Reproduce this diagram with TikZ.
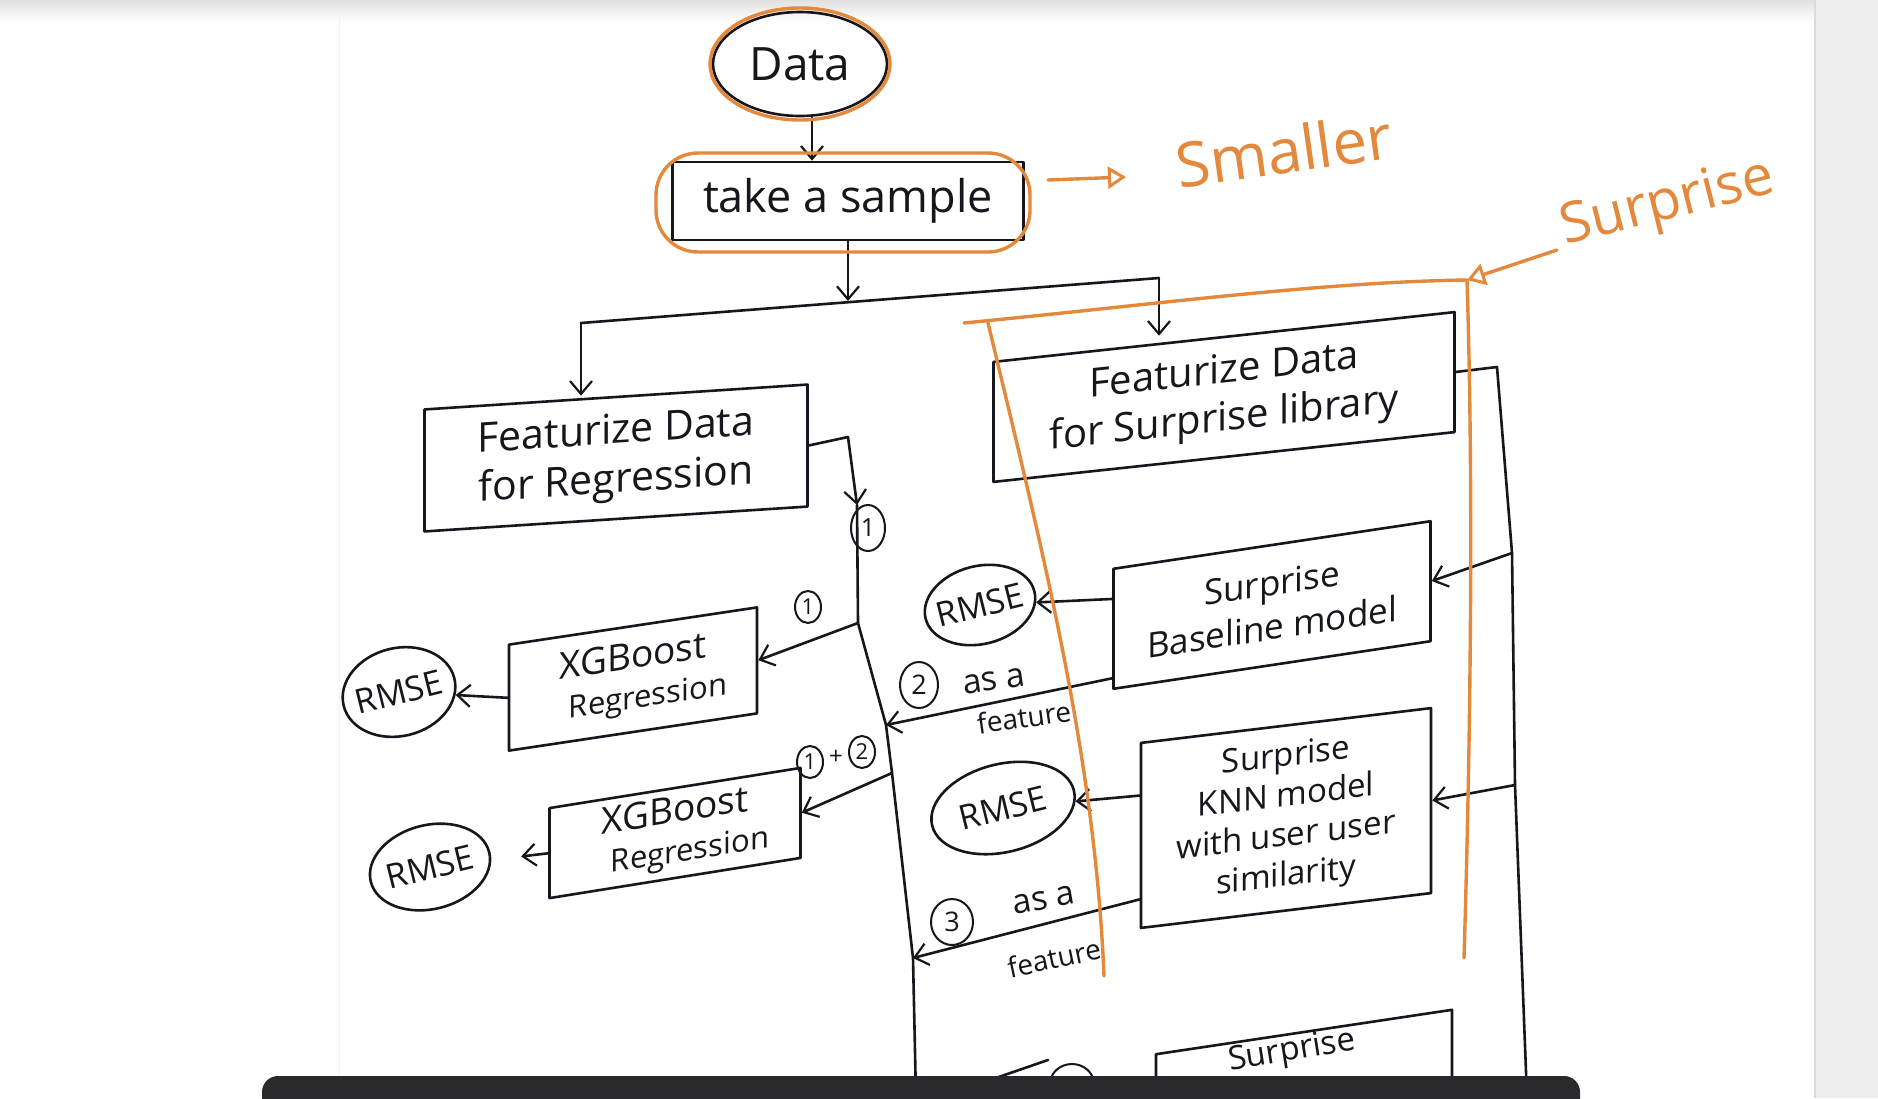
\documentclass[tikz,border=0pt]{standalone}
\usepackage{fontspec}
\setmainfont{Open Sans}
\usetikzlibrary{arrows.meta,shapes.geometric}
\definecolor{ink}{RGB}{22,22,28}
\definecolor{hl}{RGB}{228,136,60}
\definecolor{bar}{RGB}{42,42,44}
\begin{document}
\begin{tikzpicture}[x=1pt,y=-1pt,
  inkline/.style={draw=ink,line width=2.6pt,line join=round,line cap=round},
  box/.style={inkline,rectangle,align=center,inner sep=4pt,text=ink},
  oval/.style={inkline,ellipse,inner xsep=-5pt,inner ysep=0pt,text=ink,font=\fontsize{34}{38}\selectfont},
  num/.style={draw=ink,line width=2pt,ellipse,inner sep=0pt,text=ink,font=\fontsize{22}{24}\selectfont},
  arr/.style={inkline,-{Straight Barb[length=13pt,width=22pt,line width=2.2pt]}},
  lbl/.style={text=ink,inner sep=0pt},
  hlline/.style={draw=hl,line width=3.4pt,line cap=round,line join=round},
  hlarr/.style={hlline,-{Triangle[open,length=18pt,width=22pt,line width=3pt]}},
  hltext/.style={text=hl,inner sep=0pt}
]
\useasboundingbox (0,0) rectangle (1878,1098);
\clip (0,0) rectangle (1878,1098);
% page background
\fill[white] (0,0) rectangle (1878,1098);
\shade[top color=black!12,bottom color=white] (0,0) rectangle (1878,22);
\draw[black!5,line width=1pt] (339,18) -- (339,1098);
\fill[black!7] (1815,0) rectangle (1878,1098);
\draw[black!14,line width=1.5pt] (1815,0) -- (1815,1098);

% ---------- nodes ----------
\node[inkline,ellipse,inner sep=0pt,text=ink,minimum width=174pt,minimum height=104pt,font=\fontsize{46}{50}\selectfont] (data) at (800,64) {Data};
\node[box,minimum width=351pt,minimum height=78pt,font=\fontsize{45}{50}\selectfont] (sample) at (848,201) {take a sample};

\node[box,yslant=0.065,minimum width=383pt,minimum height=122pt,font=\fontsize{41}{49}\selectfont] (reg) at (616,458) {Featurize Data\\for Regression};
\node[box,yslant=0.108,minimum width=461pt,minimum height=120pt,font=\fontsize{40}{48}\selectfont] (sur) at (1224,397) {Featurize Data\\for Surprise library};

\node[box,yslant=0.15,minimum width=317pt,minimum height=120pt,font=\fontsize{35}{44}\selectfont] (base) at (1272,605) {Surprise\\Baseline model};
\node[box,yslant=0.12,minimum width=290pt,minimum height=185pt,font=\fontsize{33}{40}\selectfont] (knn) at (1286,818) {Surprise\\KNN model\\with user user\\similarity};

\node[box,yslant=0.15,minimum width=248pt,minimum height=106pt,font=\fontsize{37}{40}\selectfont] (xg1) at (633,679) {XGBoost\\{\fontsize{31}{36}\selectfont\hspace*{30pt}Regression}};
\node[box,yslant=0.16,minimum width=251pt,minimum height=90pt,font=\fontsize{37}{40}\selectfont] (xg2) at (675,833) {XGBoost\\{\fontsize{31}{36}\selectfont\hspace*{30pt}Regression}};

\node[oval,rotate=14,minimum width=114pt,minimum height=88pt] (rl1) at (399,692) {RMSE};
\node[oval,rotate=14,minimum width=122pt,minimum height=84pt] (rl2) at (430,867) {RMSE};
\node[oval,rotate=14,minimum width=112pt,minimum height=78pt] (rr1) at (980,605) {RMSE};
\node[oval,rotate=14,minimum width=146pt,minimum height=88pt] (rr2) at (1003,808) {RMSE};

% bottom, partly hidden box
\node[box,yslant=0.15,minimum width=296pt,minimum height=110pt] (bot) at (1304,1087) {};
\node[lbl,rotate=9,font=\fontsize{33}{33}\selectfont] (botT) at (1292,1052) {Surprise};
\node[num,minimum width=44pt,minimum height=40pt] (n4) at (1072,1084) {};

% ---------- coordinates ----------
\coordinate (jn) at (848,301);
\coordinate (L) at (581,323);
\coordinate (R) at (1159,278);
\coordinate (c1) at (848,437);
\coordinate (c2) at (857,505);
\coordinate (v1) at (858,623);
\coordinate (v2) at (886,725);
\coordinate (v3) at (892,773);
\coordinate (v4) at (913,958);
\coordinate (v5) at (916,1098);
\coordinate (r0) at (1497,367);
\coordinate (r1) at (1512,553);
\coordinate (r2) at (1515,785);
\coordinate (r3) at (1527,1098);
\coordinate (p1) at (990,1080);
\coordinate (p2) at (1048,1060);

% ---------- connectors ----------
\draw[arr] ([xshift=12pt]data.south) -- ([xshift=12pt]data.south |- sample.north);
\draw[arr] (sample.south) -- (jn);
\draw[inkline] (L) -- (R);
\draw[arr] (L) -- (L |- reg.north);
\draw[arr] (R) -- (R |- sur.north);

\draw[inkline] (reg.east) -- (c1);
\draw[arr] (c1) -- (c2);
\draw[inkline] (c2) -- (v1) -- (v2) -- (v3) -- (v4) -- (v5);
\draw[arr] (v1) -- (xg1.east);
\draw[arr] (v3) -- (xg2.east);
\draw[arr] ([yshift=12pt]base.south west) -- (v2);
\draw[arr] ([yshift=30pt]knn.south west) -- (v4);

\draw[inkline] (sur.east) -- (r0) -- (r1) -- (r2) -- (r3);
\draw[arr] (r1) -- (base.east);
\draw[arr] (r2) -- (knn.east);

\draw[arr] ([yshift=30pt]base.west) -- (rr1);
\draw[arr] ([yshift=40pt]knn.west) -- (rr2);
\draw[arr] (xg1.west) -- (rl1);
\draw[arr,shorten >=30pt] (xg2.west) -- (rl2);
\draw[inkline] (p1) -- (p2);

% ---------- labels ----------
\node[num,minimum width=34pt,minimum height=46pt,font=\fontsize{25}{27}\selectfont] (n1a) at (868,528) {1};
\node[num,minimum width=26pt,minimum height=32pt] (n1b) at (808,607) {1};
\node[num,minimum width=26pt,minimum height=32pt] (n12a) at (810,762) {1};
\node[lbl,font=\fontsize{24}{24}\selectfont] (plus) at (836,757) {+};
\node[num,minimum width=26pt,minimum height=32pt] (n12b) at (862,752) {2};

\node[num,minimum width=38pt,minimum height=46pt,font=\fontsize{27}{28}\selectfont] (n2) at (919,685) {2};
\node[lbl,rotate=8,font=\fontsize{34}{34}\selectfont] (as2) at (994,681) {as a};
\node[lbl,rotate=8,font=\fontsize{28}{28}\selectfont] (ft2) at (1024,717) {feature};
\node[num,minimum width=42pt,minimum height=46pt,font=\fontsize{27}{28}\selectfont] (n3) at (952,922) {3};
\node[lbl,rotate=10,font=\fontsize{34}{34}\selectfont] (as3) at (1044,900) {as a};
\node[lbl,rotate=12,font=\fontsize{28}{28}\selectfont] (ft3) at (1054,958) {feature};

% ---------- orange annotations ----------
\draw[hlline] (data.center) ellipse [x radius=90pt,y radius=56pt];
\draw[hlline,rounded corners=42pt] (656,153) rectangle (1030,252);
\coordinate (oa) at (1048,180);
\coordinate (ob) at (1126,177);
\draw[hlarr] (oa) -- (ob);
\node[hltext,rotate=8,font=\fontsize{62}{62}\selectfont] (smaller) at (1284,150) {Smaller};
\node[hltext,rotate=14,font=\fontsize{56}{56}\selectfont] (surp) at (1668,205) {Surprise};
\coordinate (tr) at (1467,280);
\coordinate (sa) at (1557,250);
\draw[hlarr] (sa) -- (tr);
\draw[hlline] (964,323) .. controls (1150,305) and (1320,282) .. (tr);
\draw[hlline] (988,323) .. controls (1045,560) and (1095,760) .. (1104,976);
\draw[hlline] (tr) .. controls (1474,500) and (1470,760) .. (1464,958);

% ---------- screen toolbar ----------
\fill[bar,rounded corners=16pt] (262,1076) rectangle (1580,1140);
\end{tikzpicture}
\end{document}
